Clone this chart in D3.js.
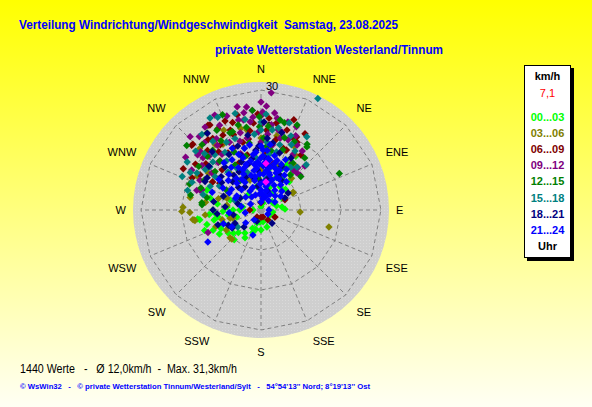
<!DOCTYPE html>
<html lang="de">
<head>
    <meta charset="UTF-8">
    <title>Windrose Westerland/Tinnum</title>
    <script src="https://d3js.org/d3.v7.min.js"></script>
    <style>
        body { margin: 0; }
        svg { display: block; font-family: "Liberation Sans", Arial, sans-serif; }
    </style>
</head>
<body>
    <div id="rose"></div>
    <script>
        // Himmelsrichtungen und Ringe
        const dirLabels = ["N","NNE","NE","ENE","E","ESE","SE","SSE","S","SSW","SW","WSW","W","WNW","NW","NNW"];
        const ringVals = [10, 20, 30];
        const ringLabels = ["10", "20", "30"];

        // Legende (Uhrzeit-Gruppen)
        const hourLabels = ["00...03","03...06","06...09","09...12","12...15","15...18","18...21","21...24"];
        const hourColors = ["#00ff00","#808000","#800000","#800080","#008000","#008080","#000080","#0000ff"];
        const currentSpeed = "7,1";

        // Messwerte [Richtung in Grad, Geschwindigkeit km/h], aus dem Bild geschaetzt
        const p0003 = [[261,15.5],[266,11.5],[247,13],[261,10.9],[251,10],[261,8.3],[254,6.3],[270,5.3],[279,4.6],[197,3.4],
            [161,4.5],[145,3],[60,3.5],[82,5.3],[40,7.5],[36,9.3],[27,11.7],[27,14],[16,1.8],[0,0.8],
            [270,7],[275,8.5],[290,14.4],[335,8.3],[270,2],[288,8.1],[35,5.2],[54,3.4],[240,12],[230,9],
            [205,5],[250,15],[265,13],[20,6],[10,10],[350,6],[30,13],[300,6],[215,7],[180,5],
            [245,9],[258,12],[225,8],[200,6],[185,3],[120,2.5],[75,4],[45,10],[15,8],[320,5],
            [255,14],[262,16],[270,12],[268,9.5],[278,11],[283,13],[245,11],[235,10],[222,10],[210,8],
            [195,5],[170,3],[100,3],[88,6],[60,6],[50,8],[40,12],[33,16],[25,9],[15,4]];
        const p0306 = [[269,19.8],[280,18],[261.5,16.9],[315,21.7],[225,10.3],[93,9.8],[104,17.5],[61,9.2],[32,16.2],[44,11],
            [16,8.3],[278,8.6],[290,9.6],[350,20.3],[272,19.5],[268,17.8],[261,16.7],[289,9],[255,8],[62,9],
            [117,3.9],[346,21],[341,14.5],[28,17.9],[8,15.9],[262,17.2],[228,10.4],[256,10],[254,7.3],[300,14],
            [320,12],[0,10],[340,8],[20,12],[310,17],[330,19],[298,18],[305,16],[325,20],[335,22],
            [0,18],[12,19],[22,16],[38,14],[278,14],[285,11],[265,14],[250,12],[240,10]];
        const p0609 = [[328,25],[314,23.7],[323,22],[346,24.5],[355,21.8],[10,22],[26,20.3],[27,18.8],[23,16.3],[313,23.7],
            [326,21.6],[328,19.2],[336,17],[339,21.4],[329,24.8],[346,14.2],[24,19.7],[28,19.2],[20,16.4],[298,22],
            [300,17.6],[303,12.3],[270,2.8],[0,1.8],[145,3],[210,2],[10,3],[180,1.8],[164,1.8],[117,3.9],
            [67,6.5],[320,16],[335,13],[310,18],[350,18],[5,14],[340,20],[15,12],[318,20],[332,23],
            [305,20],[308,15],[316,14],[324,18],[333,21],[342,23],[352,20],[358,24],[4,20],[12,18],
            [18,21],[30,22],[36,17],[300,14],[295,19],[330,16.5],[345,17.5],[5,23],[20,24],[338,24]];
        const p0912 = [[5,29.4],[355,25],[355,23.3],[350,24.7],[346,23.2],[334,26.4],[316,25.5],[311,21],[307,18.5],[288,16],
            [247,14.4],[8,24.5],[10,23.3],[15,20.2],[41,14],[48,13.1],[39,12.8],[21,18.8],[29,18.6],[334,23.6],
            [349,22.9],[353,22.2],[349,18.3],[335,18.7],[314,21],[316,18.7],[1,24.5],[0,21.3],[23,22.6],[15,18.6],
            [10,16.5],[287,16.8],[289,15.6],[307,15.4],[44,12.9],[325,17],[340,15],[5,19],[320,22],[0,17],
            [30,16],[345,20],[3,26],[358,19.5],[12,20.5],[326,19.5],[300,20],[305,23],[320,24],[328,21],
            [340,25],[343,18],[352,26],[0,23.5],[7,21.5],[17,23],[25,20.5],[35,18],[33,14],[45,15.5],
            [318,16],[296,17],[326,25],[312,19.5],[0,27],[347,26.5]];
        const p1215 = [[311,24.6],[275,14.8],[283,13.9],[65,21.6],[36,19.5],[34,14.2],[359,23.3],[359,20.8],[2,18],[321,19.2],
            [331,22.8],[340,20.8],[15,22.6],[23,23.1],[338,25.7],[338,20.8],[35,20.1],[277,14.9],[40,11.4],[27,12.1],
            [310,15],[320,16],[330,13],[345,12],[350,17],[10,15],[20,16],[300,10],[290,19],[8,11],
            [355,8],[30,9],[325,9],[315,19],[345,22],[298,16],[305,19],[318,22],[325,23.5],[335,16],
            [350,21],[355,25],[5,21],[12,23],[26,19],[40,17],[50,13],[290,16],[282,18],[330,20],
            [344,14],[5,16],[18,19]];
        const p1518 = [[293,21.4],[292,18.6],[300,18.5],[306,17.2],[335,25.6],[0,22],[0,20],[32,21.6],[27,31.3],[18,22.9],
            [8,20.2],[331,26.3],[310,16.7],[306,14.2],[319,12.6],[234,7.2],[315,20],[320,18],[325,21],[340,19],
            [345,16],[350,23],[5,17],[15,15],[25,18],[35,13],[330,12],[300,12],[285,15],[340,10],
            [355,13],[45,16],[20,11],[10,8],[290,7],[312,22],[328,17],[298,20],[303,22],[315,17],
            [322,24],[333,19],[345,25],[355,19],[3,24],[12,21],[22,20],[30,17],[40,14],[285,19],
            [295,14],[325,15],[350,13],[8,14],[16,17]];
        const p1821 = [[325,23.4],[301,15.7],[251,11.4],[238,8.5],[140,4.3],[58,8],[63,6.7],[297,15.7],[243,7.3],[345,12],
            [355,10],[5,13],[12,8],[340,17],[330,16],[315,10],[320,14],[0,7],[20,5],[290,10],
            [275,9],[260,7],[350,19],[10,17],[25,12],[30,15],[355,15],[335,9],[310,13],[300,6],
            [270,12],[225,6],[200,3],[15,20],[2,22],[338,13],[348,8],[8,11],[322,11],[285,6],
            [330,11],[325,7],[315,8],[305,12],[350,13],[358,16],[5,18],[18,15],[28,10],[35,9],
            [340,14.5],[352,6],[2,4],[280,12],[265,11],[245,9],[310,17],[320,19]];
        const p2124 = [[0,16],[6,15],[10,12.7],[341,13.8],[352,14],[356,12],[3,11],[8,10],[14,9],[20,8],
            [25,11],[18,13],[28,7],[35,6],[45,5],[60,4],[350,10],[344,9],[336,11],[330,8],
            [322,10],[316,7],[325,13],[5,7],[0,5],[355,4],[15,5],[10,3],[340,6],[348,7.5],
            [358,9],[2,13.5],[12,11],[22,10],[30,9],[38,8],[32,12],[26,14],[345,16],[338,15],
            [330,14.5],[318,12],[305,9],[295,7],[310,5],[280,5],[300,11],[290,13],[240,8.4],[239,15.5],
            [198,6.6],[230,5],[260,4],[215,3],[250,10],[265,8],[40,3],[90,2],[120,2],[0,2],
            [300,3],[352,11.5],[4,9],[16,7],[348,12.5],[334,10],[12,6],[358,6.5],[24,12.5],[340,11.5],
            [6,4],[330,5.5],[20,3.5],[355,14.5],[8,13],[332,12],[328,9],[318,9],[312,11],[306,13],
            [298,9],[342,12],[350,8.5],[354,10.5],[2,15],[8,16.5],[14,14],[19,11],[26,9],[34,10.5],
            [42,9.5],[48,7],[55,6],[30,4.5],[340,4],[325,4],[300,7],[350,16.5],[0,13],[5,12],
            [358,11.5],[12,9.5],[16,12],[322,15],[335,17]];
        const current = [[6,11.7],[10,7.1]];

        const series = [p0003, p0306, p0609, p0912, p1215, p1518, p1821, p2124];

        const W = 592, H = 407;
        const cx = 261, cy = 210;
        const rad = d3.scaleLinear().domain([0, 32]).range([0, 128]);
        const toRad = d => d * Math.PI / 180;

        const svg = d3.select('#rose')
            .append('svg')
                .attr('width', W)
                .attr('height', H);

        const defs = svg.append('defs');
        const grad = defs.append('linearGradient')
            .attr('id', 'bg')
            .attr('x1', 0).attr('y1', 0).attr('x2', 0).attr('y2', 1);
        grad.append('stop').attr('offset', '0%').attr('stop-color', '#ffff00');
        grad.append('stop').attr('offset', '100%').attr('stop-color', '#fffff4');

        const pat = defs.append('pattern')
            .attr('id', 'dots')
            .attr('width', 3).attr('height', 3)
            .attr('patternUnits', 'userSpaceOnUse');
        pat.append('rect').attr('width', 3).attr('height', 3).attr('fill', '#cfcfcf');
        pat.append('rect').attr('width', 1).attr('height', 1).attr('fill', '#dadada');

        svg.append('rect')
            .attr('width', W).attr('height', H)
            .attr('fill', 'url(#bg)');

        // Titel
        svg.append('text')
            .attr('x', 19).attr('y', 29)
            .attr('textLength', 379).attr('lengthAdjust', 'spacingAndGlyphs')
            .style('white-space', 'pre')
            .attr('font-size', 13).attr('font-weight', 'bold').attr('fill', '#0000ff')
            .text('Verteilung Windrichtung/Windgeschwindigkeit  Samstag, 23.08.2025');
        svg.append('text')
            .attr('x', 215).attr('y', 54)
            .attr('textLength', 228).attr('lengthAdjust', 'spacingAndGlyphs')
            .attr('font-size', 13).attr('font-weight', 'bold').attr('fill', '#0000ff')
            .text('private Wetterstation Westerland/Tinnum');

        const g = svg.append('g').attr('transform', `translate(${cx}, ${cy})`);

        // graue Scheibe
        g.append('circle')
            .attr('r', rad(32))
            .attr('fill', 'url(#dots)');

        // Ringe als 16-Ecke
        const ring = d3.lineRadial()
            .angle((d, i) => toRad(i * 22.5))
            .curve(d3.curveLinearClosed);
        g.selectAll('path.ring')
            .data(ringVals)
            .join('path')
                .attr('class', 'ring')
                .attr('d', v => ring.radius(rad(v))(dirLabels))
                .attr('fill', 'none')
                .attr('stroke', '#808080')
                .attr('stroke-dasharray', '4,3');

        // Speichen
        g.selectAll('line.spoke')
            .data(dirLabels)
            .join('line')
                .attr('class', 'spoke')
                .attr('x1', 0).attr('y1', 0)
                .attr('x2', (d, i) => d3.pointRadial(toRad(i * 22.5), rad(30))[0])
                .attr('y2', (d, i) => d3.pointRadial(toRad(i * 22.5), rad(30))[1])
                .attr('stroke', '#808080')
                .attr('stroke-dasharray', '4,3');

        // Ringbeschriftung
        g.selectAll('text.ringlab')
            .data(ringVals)
            .join('text')
                .attr('class', 'ringlab')
                .attr('x', 5)
                .attr('y', v => -rad(v) - 0.5)
                .attr('font-size', 11)
                .attr('fill', '#000')
                .text((v, i) => ringLabels[i]);

        // Punkte
        const diamond = 'M0,-3.7L3.7,0L0,3.7L-3.7,0Z';
        series.forEach((s, k) => {
            g.append('g').selectAll('path')
                .data(s)
                .join('path')
                    .attr('d', diamond)
                    .attr('transform', d => {
                        const p = d3.pointRadial(toRad(d[0]), rad(d[1]));
                        return `translate(${p[0]}, ${p[1]})`;
                    })
                    .attr('fill', hourColors[k]);
        });
        g.append('g').selectAll('path')
            .data(current)
            .join('path')
                .attr('d', diamond)
                .attr('transform', d => {
                    const p = d3.pointRadial(toRad(d[0]), rad(d[1]));
                    return `translate(${p[0]}, ${p[1]})`;
                })
                .attr('fill', '#ff00ff');

        g.append('rect')
            .attr('x', -2).attr('y', -1).attr('width', 5).attr('height', 5)
            .attr('fill', '#999999');

        // Richtungsbeschriftung
        g.selectAll('text.dir')
            .data(dirLabels)
            .join('text')
                .attr('class', 'dir')
                .attr('x', (d, i) => d3.pointRadial(toRad(i * 22.5), 135)[0])
                .attr('y', (d, i) => {
                    const p = d3.pointRadial(toRad(i * 22.5), 135);
                    const c = Math.cos(toRad(i * 22.5));
                    const off = c > 0.01 ? -6.5 : (c < -0.01 ? 6.5 : 0);
                    return p[1] + off + 4;
                })
                .attr('text-anchor', (d, i) => {
                    const s = Math.sin(toRad(i * 22.5));
                    return s > 0.01 ? 'start' : (s < -0.01 ? 'end' : 'middle');
                })
                .attr('font-size', 11)
                .attr('fill', '#000')
                .text(d => d);

        // Legende
        const lg = svg.append('g');
        lg.append('rect')
            .attr('x', 527).attr('y', 68).attr('width', 47).attr('height', 193)
            .attr('fill', '#000');
        lg.append('rect')
            .attr('x', 524.5).attr('y', 65.5).attr('width', 46).attr('height', 192)
            .attr('fill', '#fff').attr('stroke', '#000');
        lg.append('text')
            .attr('x', 547.5).attr('y', 80)
            .attr('text-anchor', 'middle')
            .attr('font-size', 11).attr('font-weight', 'bold')
            .text('km/h');
        lg.append('text')
            .attr('x', 547.5).attr('y', 97)
            .attr('text-anchor', 'middle')
            .attr('font-size', 11).attr('fill', '#ff0000')
            .text(currentSpeed);
        lg.selectAll('text.hr')
            .data(hourLabels)
            .join('text')
                .attr('class', 'hr')
                .attr('x', 547.5)
                .attr('y', (d, i) => 121 + i * 16.1)
                .attr('text-anchor', 'middle')
                .attr('font-size', 11).attr('font-weight', 'bold')
                .attr('fill', (d, i) => hourColors[i])
                .text(d => d);
        lg.append('text')
            .attr('x', 547.5).attr('y', 250)
            .attr('text-anchor', 'middle')
            .attr('font-size', 11).attr('font-weight', 'bold')
            .text('Uhr');

        // Fusszeilen
        svg.append('text')
            .attr('x', 20).attr('y', 373)
            .attr('textLength', 217).attr('lengthAdjust', 'spacingAndGlyphs')
            .style('white-space', 'pre')
            .attr('font-size', 12).attr('fill', '#000')
            .text('1440 Werte   -   Ø 12,0km/h  -  Max. 31,3km/h');
        svg.append('text')
            .attr('x', 20).attr('y', 389)
            .attr('textLength', 350).attr('lengthAdjust', 'spacingAndGlyphs')
            .style('white-space', 'pre')
            .attr('font-size', 8).attr('font-weight', 'bold').attr('fill', '#0000ff')
            .text("© WsWin32   -   © private Wetterstation Tinnum/Westerland/Sylt   -   54°54'13'' Nord; 8°19'13'' Ost");
    </script>
</body>
</html>
